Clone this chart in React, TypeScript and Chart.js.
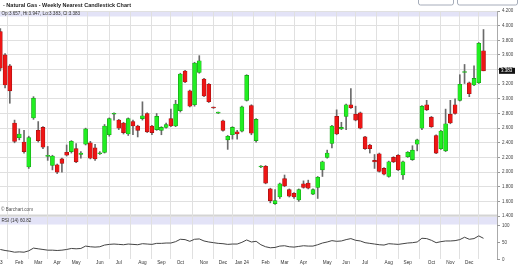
import React, { useEffect, useRef } from 'react';
import { Chart, registerables } from 'chart.js';

Chart.register(...registerables);

// Weekly candles, week index 1 = second week of Jan 2023
const OPEN = [
  3.92, 3.60, 3.45, 2.67, 2.47, 2.41, 2.07, 2.74, 2.57, 2.61,
  2.215, 2.09, 2.10, 2.18, 2.27, 2.28, 2.32, 2.24, 2.38, 2.40,
  2.33, 2.25, 2.27, 2.51, 2.79, 2.71, 2.67, 2.52, 2.69, 2.63,
  2.73, 2.80, 2.63, 2.58, 2.57, 2.61, 2.73, 2.63, 2.84, 3.38,
  3.11, 2.92, 3.36, 3.27, 3.20, 2.885, 2.805, 2.70, 2.44, 2.51,
  2.55, 2.56, 2.98, 2.91, 2.43, 2.07, 2.08, 1.77, 1.57, 1.66,
  1.91, 1.76, 1.71, 1.62, 1.84, 1.85, 1.70, 1.79, 2.03, 2.20,
  2.39, 2.76, 2.59, 2.76, 2.92, 2.79, 2.81, 2.48, 2.37, 2.16,
  2.25, 2.05, 1.94, 2.20, 2.23, 1.96, 2.21, 2.17, 2.38, 2.60,
  2.92, 2.75, 2.50, 2.32, 2.29, 2.79, 2.92, 2.98, 3.36, 3.22,
  3.19, 3.22, 3.657,
];
const HIGH = [
  3.96, 3.62, 3.47, 2.71, 2.59, 2.57, 2.49, 3.03, 2.69, 2.62,
  2.35, 2.23, 2.11, 2.19, 2.37, 2.43, 2.39, 2.28, 2.60, 2.42,
  2.38, 2.28, 2.65, 2.74, 2.81, 2.72, 2.68, 2.74, 2.71, 2.64,
  2.96, 2.81, 2.64, 2.80, 2.62, 2.67, 2.86, 2.98, 3.35, 3.39,
  3.12, 3.50, 3.59, 3.28, 3.21, 2.89, 2.82, 2.71, 2.50, 2.62,
  2.57, 2.90, 3.33, 2.92, 2.73, 2.09, 2.09, 1.78, 1.76, 1.85,
  1.96, 1.77, 1.72, 1.77, 1.88, 1.89, 1.77, 1.94, 2.15, 2.30,
  2.64, 2.85, 2.68, 2.93, 3.14, 2.90, 2.82, 2.49, 2.38, 2.24,
  2.26, 2.06, 2.15, 2.21, 2.24, 2.15, 2.28, 2.36, 2.45, 2.91,
  2.98, 2.76, 2.51, 2.57, 2.86, 2.98, 3.00, 3.33, 3.47, 3.23,
  3.45, 3.77, 3.947,
];
const LOW = [
  3.38, 3.15, 2.94, 2.40, 2.44, 2.26, 2.05, 2.72, 2.41, 2.32,
  2.16, 2.03, 1.98, 2.00, 2.22, 2.26, 2.13, 2.19, 2.37, 2.18,
  2.16, 2.24, 2.26, 2.49, 2.71, 2.58, 2.52, 2.50, 2.51, 2.48,
  2.71, 2.54, 2.51, 2.57, 2.51, 2.60, 2.62, 2.62, 2.82, 3.22,
  2.89, 2.90, 3.35, 3.03, 2.95, 2.87, 2.80, 2.56, 2.31, 2.45,
  2.45, 2.55, 2.97, 2.51, 2.41, 2.06, 1.84, 1.58, 1.56, 1.64,
  1.80, 1.66, 1.64, 1.60, 1.78, 1.77, 1.69, 1.64, 1.94, 2.19,
  2.33, 2.51, 2.58, 2.58, 2.87, 2.70, 2.59, 2.31, 2.26, 2.05,
  2.00, 1.96, 1.93, 2.13, 2.02, 1.90, 2.20, 2.16, 2.29, 2.58,
  2.84, 2.61, 2.25, 2.31, 2.28, 2.66, 2.79, 2.97, 3.21, 3.03,
  3.18, 3.21, 3.383,
];
const CLOSE = [
  3.42, 3.19, 3.11, 2.42, 2.52, 2.28, 2.47, 3.01, 2.43, 2.34,
  2.225, 2.22, 2.00, 2.12, 2.23, 2.42, 2.14, 2.26, 2.59, 2.19,
  2.18, 2.26, 2.63, 2.73, 2.795, 2.60, 2.54, 2.73, 2.63, 2.57,
  2.77, 2.55, 2.54, 2.76, 2.61, 2.65, 2.63, 2.93, 3.34, 3.23,
  2.90, 3.49, 3.52, 3.04, 2.96, 2.875, 2.815, 2.57, 2.49, 2.61,
  2.52, 2.89, 3.32, 2.53, 2.72, 2.08, 1.85, 1.61, 1.61, 1.84,
  1.81, 1.67, 1.66, 1.76, 1.79, 1.78, 1.76, 1.93, 2.14, 2.26,
  2.63, 2.52, 2.61, 2.92, 2.88, 2.71, 2.60, 2.32, 2.32, 2.14,
  2.01, 1.97, 2.14, 2.14, 2.03, 2.14, 2.27, 2.30, 2.44, 2.90,
  2.85, 2.62, 2.26, 2.56, 2.66, 2.67, 2.80, 3.20, 3.37, 3.07,
  3.28, 3.76, 3.383,
];
const RSI = [
  28, 25, 23, 20, 21, 20, 24, 32, 30, 28,
  26, 26, 25, 26, 28, 31, 30, 31, 38, 36,
  35, 36, 41, 43, 44, 43, 42, 44, 43, 42,
  45, 44, 43, 46, 46, 47, 47, 51, 58, 57,
  52, 58, 59, 53, 50, 48, 46, 45, 43, 44,
  44, 49, 56, 50, 52, 42, 36, 33, 34, 38,
  39, 36, 35, 37, 39, 38, 38, 42, 47, 50,
  54, 52, 53, 57, 60, 55, 53, 48, 46, 44,
  42, 41, 45, 44, 43, 45, 47, 48, 50, 61,
  60, 55, 48, 51, 53, 53, 54, 57, 64, 58,
  60, 68, 60.82,
];

const PRICE_TICKS = [1.4, 1.6, 1.8, 2.0, 2.2, 2.4, 2.6, 2.8, 3.0, 3.2, 3.4, 3.6, 3.8, 4.0, 4.2];
const RSI_TICKS = [0, 50, 100];
const MONTH_TICK_WEEKS = [0, 5, 9, 13, 17, 22, 26, 31, 35, 39, 44, 48, 52, 57, 61, 65, 70, 74, 78, 83, 87, 92, 96, 100];
const MONTH_LABELS = ['Jan 23', 'Feb', 'Mar', 'Apr', 'May', 'Jun', 'Jul', 'Aug', 'Sep', 'Oct', 'Nov', 'Dec',
  'Jan 24', 'Feb', 'Mar', 'Apr', 'May', 'Jun', 'Jul', 'Aug', 'Sep', 'Oct', 'Nov', 'Dec'];

const TITLE = '- Natural Gas - Weekly Nearest Candlestick Chart';
const WATERMARK = '\u00A9 Barchart.com';

const FONT = '"Liberation Sans", Arial, sans-serif';
const UP_FILL = '#22ee22';
const UP_EDGE = '#139a13';
const DOWN_FILL = '#ee1515';
const DOWN_EDGE = '#9a1010';
const BAND = '#e3e3f7';

export default function App() {
  const ref = useRef<HTMLCanvasElement | null>(null);

  useEffect(() => {
    document.body.style.margin = '0';
    const canvas = ref.current;
    if (!canvas) return;
    const weeks = OPEN.map((_, k) => k + 1);
    const last = OPEN.length - 1;
    const isUp = OPEN.map((o, k) => CLOSE[k] >= o);

    const decor = {
      id: 'decor',
      beforeDraw(chart: any) {
        const { ctx, chartArea: a, scales } = chart;
        ctx.save();
        ctx.fillStyle = '#ffffff';
        ctx.fillRect(0, 0, chart.width, chart.height);
        const w = a.right - a.left;
        ctx.fillStyle = BAND;
        ctx.fillRect(a.left, a.top, w, 5.5);
        const yb = scales.y.getPixelForValue(1.4);
        ctx.fillStyle = '#d4d4d4';
        ctx.fillRect(a.left, yb - 1.5, w, 2.5);
        ctx.fillStyle = BAND;
        ctx.fillRect(a.left, yb + 1, w, 7.5);
        ctx.restore();
      },
      afterDraw(chart: any) {
        const { ctx, chartArea: a, scales } = chart;
        ctx.save();
        ctx.textBaseline = 'middle';
        ctx.textAlign = 'left';
        // title
        ctx.fillStyle = '#222';
        ctx.font = `bold 5.5px ${FONT}`;
        ctx.fillText(TITLE, 3, 5.5);
        // buttons (cut off at top)
        ctx.strokeStyle = '#8f98a8';
        ctx.lineWidth = 0.8;
        ctx.beginPath();
        ctx.roundRect(418.5, -6, 35, 11, 2);
        ctx.roundRect(457.5, -6, 60, 11, 2);
        ctx.stroke();
        // header OHLC text
        ctx.font = `4.6px ${FONT}`;
        ctx.fillStyle = '#333';
        ctx.fillText(
          `Op:${OPEN[last].toFixed(3)}, Hi:${HIGH[last].toFixed(3)}, Lo:${LOW[last].toFixed(3)}, Cl:${CLOSE[last].toFixed(3)}`,
          1.5, a.top + 3
        );
        // watermark
        const yb = scales.y.getPixelForValue(1.4);
        ctx.fillStyle = '#555';
        ctx.fillText(WATERMARK, 1, yb - 6);
        // RSI header
        ctx.fillStyle = '#333';
        ctx.fillText(`RSI (14) ${RSI[last].toFixed(2)}`, 1.5, yb + 4.7);
        // x labels
        const xs = scales.x;
        ctx.fillStyle = '#333';
        ctx.font = `4.7px ${FONT}`;
        ctx.textAlign = 'center';
        MONTH_TICK_WEEKS.forEach((v, k) => {
          ctx.fillText(MONTH_LABELS[k], xs.getPixelForValue(v), a.bottom + 4);
        });
        ctx.textAlign = 'left';
        // RSI axis labels
        const r = scales.yRsi;
        ctx.strokeStyle = '#999';
        ctx.lineWidth = 1;
        ctx.fillStyle = '#444';
        ctx.font = `4.5px ${FONT}`;
        RSI_TICKS.forEach((v) => {
          const py = Math.round(r.getPixelForValue(v)) + 0.5;
          ctx.beginPath();
          ctx.moveTo(a.right, py);
          ctx.lineTo(a.right + 3, py);
          ctx.stroke();
          ctx.fillText(String(v), a.right + 5, py);
        });
        // last price box
        const py = scales.y.getPixelForValue(CLOSE[last]);
        ctx.fillStyle = '#111';
        ctx.fillRect(a.right + 2, py - 3, 16, 6);
        ctx.fillStyle = '#fff';
        ctx.fillText(CLOSE[last].toFixed(3), a.right + 4, py + 0.2);
        ctx.restore();
      },
    };

    const chart = new Chart(canvas, {
      type: 'bar',
      data: {
        datasets: [
          {
            type: 'bar',
            label: 'wick',
            data: weeks.map((x, k) => ({ x, y: [LOW[k], HIGH[k]] })) as any,
            backgroundColor: '#6a6a6a',
            barThickness: 1,
            grouped: false,
            order: 3,
            xAxisID: 'x',
            yAxisID: 'y',
          } as any,
          {
            type: 'bar',
            label: 'body',
            data: weeks.map((x, k) => ({ x, y: [OPEN[k], CLOSE[k]] })) as any,
            backgroundColor: isUp.map((u) => (u ? UP_FILL : DOWN_FILL)),
            borderColor: isUp.map((u) => (u ? UP_EDGE : DOWN_EDGE)),
            borderWidth: 0.6,
            borderSkipped: false,
            barThickness: 4,
            minBarLength: 1,
            grouped: false,
            order: 2,
            xAxisID: 'x',
            yAxisID: 'y',
          } as any,
          {
            type: 'line',
            label: 'RSI',
            data: weeks.map((x, k) => ({ x, y: RSI[k] })),
            borderColor: '#444',
            borderWidth: 1,
            pointRadius: 0,
            tension: 0,
            order: 1,
            xAxisID: 'x',
            yAxisID: 'yRsi',
          } as any,
        ],
      },
      options: {
        animation: false,
        responsive: false,
        devicePixelRatio: 1,
        layout: { padding: { top: 11, left: 0, right: 0, bottom: 0 } },
        plugins: { legend: { display: false }, tooltip: { enabled: false } },
        scales: {
          x: {
            type: 'linear',
            axis: 'x',
            min: 0.929,
            max: 105.85,
            offset: false,
            afterBuildTicks: (s: any) => {
              s.ticks = MONTH_TICK_WEEKS.map((v) => ({ value: v }));
            },
            afterFit: (s: any) => {
              s.height = 13;
            },
            ticks: { display: false, autoSkip: false },
            grid: { color: '#e0e0e0', drawTicks: false, lineWidth: 1 },
            border: { display: false },
          },
          y: {
            type: 'linear',
            axis: 'y',
            position: 'right',
            min: 0.813,
            max: 4.2,
            afterBuildTicks: (s: any) => {
              s.ticks = PRICE_TICKS.map((v) => ({ value: v }));
            },
            afterFit: (s: any) => {
              s.width = 23;
            },
            ticks: {
              autoSkip: false,
              padding: 2,
              color: '#444',
              font: { size: 4.5, family: FONT },
              callback: (v: any) => Number(v).toFixed(3),
            },
            grid: { color: '#e0e0e0', tickLength: 3, tickColor: '#999', lineWidth: 1 },
            border: { display: true, color: '#aaa' },
          },
          yRsi: {
            type: 'linear',
            axis: 'y',
            display: false,
            min: 0,
            max: 729.4,
          },
        },
      } as any,
      plugins: [decor],
    });

    return () => chart.destroy();
  }, []);

  return <canvas ref={ref} width={520} height={272} style={{ display: 'block' }} />;
}
